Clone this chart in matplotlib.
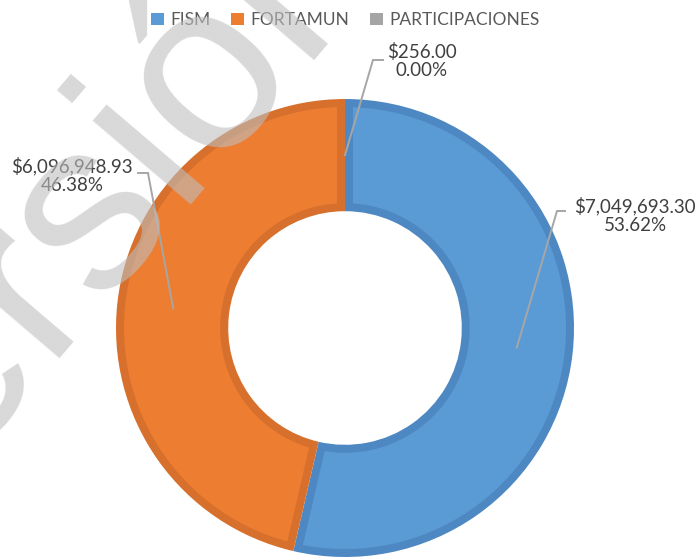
import matplotlib
matplotlib.use("Agg")
import matplotlib.pyplot as plt
from matplotlib.patches import Patch, Polygon
import numpy as np

categories = ["FISM", "FORTAMUN", "PARTICIPACIONES"]
values = [7049693.30, 6096948.93, 256.00]
colors = ["#5b9bd5", "#ed7d31", "#a5a5a5"]
edge_colors = ["#4e88c2", "#d7702c", "#909090"]

W, H = 695, 557
fig = plt.figure(figsize=(W / 100, H / 100), dpi=100)
ax = fig.add_axes([0, 0, 1, 1])
CX, CY, R = 345, 328, 229
RING_W = 0.49
BORDER = 8 / R


def p2d(px, py):
    return (px - CX) / R, (CY - py) / R


wedges, _ = ax.pie(values, colors=edge_colors, startangle=90, counterclock=False,
                   radius=1.0, wedgeprops=dict(width=RING_W, linewidth=0))

# lighter inner face of each slice (inset by the border width)
r_out = 1.0 - BORDER
r_in = 1.0 - RING_W + BORDER
for w, c in zip(wedges, colors):
    t1, t2 = np.deg2rad(w.theta1), np.deg2rad(w.theta2)
    a1o, a2o = t1 + np.arcsin(BORDER / r_out), t2 - np.arcsin(BORDER / r_out)
    a1i, a2i = t1 + np.arcsin(BORDER / r_in), t2 - np.arcsin(BORDER / r_in)
    if a2i <= a1i or a2o <= a1o:
        continue
    to = np.linspace(a1o, a2o, 200)
    ti = np.linspace(a2i, a1i, 200)
    pts = np.concatenate([np.c_[r_out * np.cos(to), r_out * np.sin(to)],
                          np.c_[r_in * np.cos(ti), r_in * np.sin(ti)]])
    ax.add_patch(Polygon(pts, closed=True, facecolor=c, edgecolor="none", zorder=2))

ax.set_xlim(p2d(0, 0)[0], p2d(W, 0)[0])
ax.set_ylim(p2d(0, H)[1], p2d(0, 0)[1])
ax.set_aspect("auto")
ax.axis("off")

total = sum(values)
label_pos = [(635, 215), (72, 175), (422, 61)]
elbows = [((557, 211), (565, 211)), ((148, 173), (138, 173)), ((373, 60), (383, 60))]
for w, v, lp, (e1, e2) in zip(wedges, values, label_pos, elbows):
    mid = np.deg2rad((w.theta1 + w.theta2) / 2)
    rm = 0.755
    sx, sy = rm * np.cos(mid), rm * np.sin(mid)
    ex1, ey1 = p2d(*e1)
    ex2, ey2 = p2d(*e2)
    ax.plot([sx, ex1, ex2], [sy, ey1, ey2], color="#a6a6a6", lw=1.4,
            solid_joinstyle="miter", zorder=5)
    tx, ty = p2d(*lp)
    ax.text(tx, ty, f"${v:,.2f}\n{v / total:.2%}", ha="center", va="center",
            fontsize=13.5, family="Lato", color="#404040", linespacing=1.1, zorder=6)

handles = [Patch(facecolor=c, edgecolor="none") for c in colors]
leg = fig.legend(handles, categories, loc="center", bbox_to_anchor=(345 / W, 1 - 20 / H),
                 ncol=3, frameon=False, handlelength=0.75, handleheight=0.75,
                 handletextpad=0.35, columnspacing=1.2, prop={"family": "Lato", "size": 12.5})
for t in leg.get_texts():
    t.set_color("#595959")

# watermark
fig.text(-135 / W, 1 - 585 / H, "Versión", rotation=49.5, rotation_mode="anchor",
         ha="left", va="baseline", fontsize=175, family="Liberation Sans",
         color="#bfbfbf", alpha=0.6, zorder=20)

fig.savefig("out.png", dpi=100)
